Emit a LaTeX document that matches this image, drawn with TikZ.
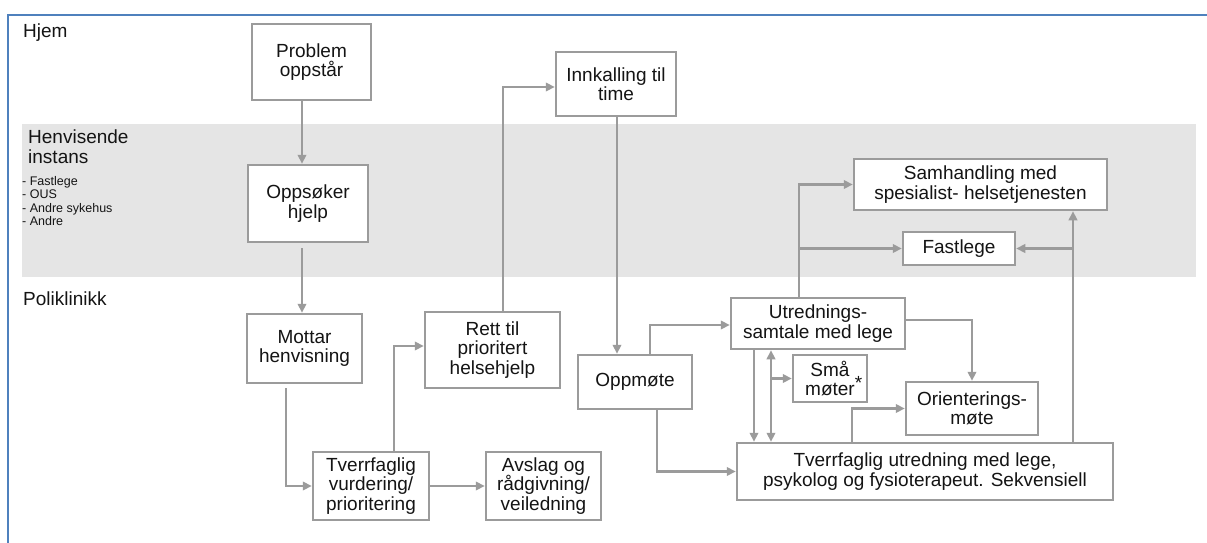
\documentclass[tikz,border=0pt]{standalone}
\usepackage{fontspec}
\setmainfont{Liberation Sans}
\usetikzlibrary{arrows.meta}
\definecolor{frameblue}{RGB}{79,129,189}
\definecolor{bandgray}{RGB}{229,229,229}
\definecolor{linegray}{RGB}{155,155,155}
\definecolor{txt}{RGB}{20,20,20}
\begin{document}
\begin{tikzpicture}[x=1pt,y=-1pt,
  box/.style={draw=linegray, line width=2.5pt, fill=white, align=center,
    inner sep=0pt, text=txt, font=\fontsize{19}{19.5}\selectfont},
  lab/.style={anchor=base west, inner sep=0pt, text=txt, align=left,
    font=\fontsize{19}{20}\selectfont},
  small/.style={anchor=base west, inner sep=0pt, text=txt, align=left,
    font=\fontsize{12.5}{13.5}\selectfont},
  tip/.tip={Triangle[length=9pt,width=8.5pt]},
  arr/.style={draw=linegray, line width=2.5pt, -tip},
  twoarr/.style={draw=linegray, line width=2.5pt, tip-tip}]

\useasboundingbox (0,0) rectangle (1207,543);

% frame and the middle band
\fill[bandgray] (22,124) rectangle (1196,277);
\draw[frameblue, line width=2.2pt] (8,543) -- (8,15) -- (1207,15);

% lane labels
\node[lab] (hjem) at (23,37.6) {Hjem};
\node[lab, anchor=north west] (henv) at (28,130) {Henvisende\\instans};
\node[small, anchor=north west] (liste) at (22,176) {- Fastlege\\- OUS\\- Andre sykehus\\- Andre};
\node[lab] (poli) at (23,305.6) {Poliklinikk};

% boxes
\node[box, minimum width=119pt, minimum height=76pt] (prob) at (311.5,62) {Problem\\oppstår};
\node[box, minimum width=120pt, minimum height=77pt] (opps) at (308,203.5) {Oppsøker\\hjelp};
\node[box, minimum width=115pt, minimum height=69pt] (mott) at (304.5,348.5) {Mottar\\henvisning};
\node[box, minimum width=116pt, minimum height=68pt] (tvv) at (371,486) {Tverrfaglig\\vurdering/\\prioritering};
\node[box, minimum width=135pt, minimum height=76pt] (rett) at (492.5,350) {Rett til\\prioritert\\helsehjelp};
\node[box, minimum width=115pt, minimum height=68pt] (avsl) at (543.5,486) {Avslag og\\rådgivning/\\veiledning};
\node[box, minimum width=120pt, minimum height=64pt] (innk) at (616,84) {Innkalling til\\time};
\node[box, minimum width=114pt, minimum height=54pt] (oppm) at (635,382) {Oppmøte};
\node[box, minimum width=174pt, minimum height=51pt] (utr) at (818,323.5) {Utrednings-\\samtale med lege};
\node[box, minimum width=74pt, minimum height=47pt] (sma) at (830,378.5) {Små\\møter\rlap{\raisebox{6pt}{*}}};
\node[box, minimum width=132pt, minimum height=53pt] (ori) at (972,408.5) {Orienterings-\\møte};
\node[box, minimum width=376pt, minimum height=57pt] (tu) at (925,471.5) {Tverrfaglig utredning med lege,\\psykolog og fysioterapeut. Sekvensiell};
\node[box, minimum width=253pt, minimum height=51pt] (sam) at (980.5,184.5) {Samhandling med\\spesialist- helsetjenesten};
\node[box, minimum width=112pt, minimum height=33pt] (fast) at (959,248.5) {Fastlege};

% vertical trunk positions
\coordinate (vA) at ([xshift=-47pt]utr.south);
\coordinate (vB) at ([xshift=148pt]tu.north);
\coordinate (vC) at ([xshift=-19pt]utr.north);

% connectors
\draw[arr] ([xshift=-9.5pt]prob.south) -- ([xshift=-9.5pt]prob.south |- opps.north);
\draw[arr] ([xshift=-6pt,yshift=-5pt]opps.south) -- ([xshift=-6pt]opps.south |- mott.north);
\draw[arr] ([xshift=-18.5pt,yshift=-4pt]mott.south) |- (tvv.west);
\draw[arr] ([xshift=23pt]tvv.north) |- ([yshift=4pt]rett.west);
\draw[arr] (tvv.east) -- (avsl.west);
\draw[arr] ([xshift=10.5pt]rett.north) |- ([yshift=-3pt]innk.west);
\draw[arr] ([xshift=1pt]innk.south) -- ([xshift=1pt]innk.south |- oppm.north);
\draw[arr] ([xshift=15pt]oppm.north) |- ([yshift=-1.5pt]utr.west);
\draw[arr] ([xshift=22pt]oppm.south) |- (tu.west);
\draw[arr] ([xshift=-64pt]utr.south) -- ([xshift=-64pt]utr.south |- tu.north);
\draw[twoarr] (vA) -- (vA |- tu.north);
\draw[arr] (vA |- sma.west) -- (sma.west);
\draw[arr] ([yshift=3.5pt]utr.east) -| (ori.north);
\draw[arr] ([xshift=-73pt]tu.north) |- (ori.west);
\draw[arr] (vB) -- (vB |- sam.south);
\draw[arr] (vB |- fast.east) -- (fast.east);
\draw[arr] (vC) |- (sam.west);
\draw[arr] (vC |- fast.west) -- (fast.west);
\end{tikzpicture}
\end{document}
